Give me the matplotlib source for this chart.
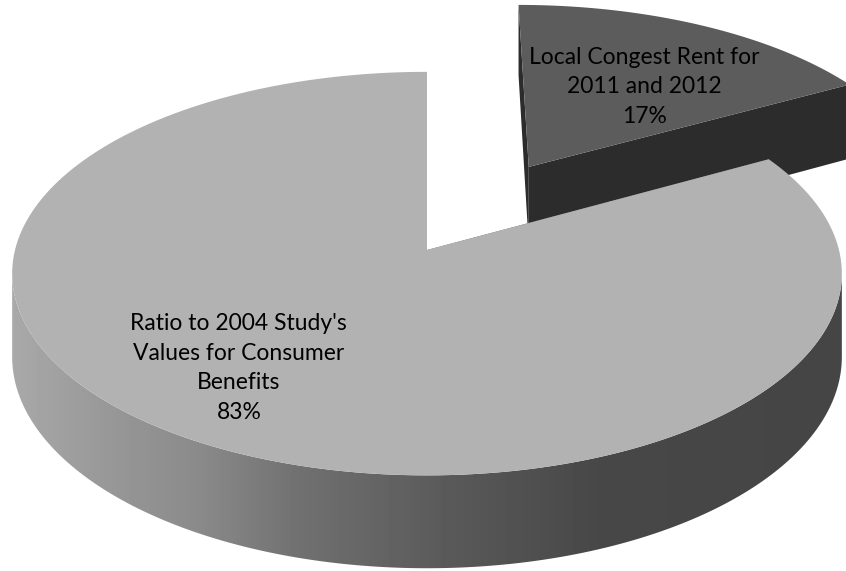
"""Exploded 3-D pie (Excel style) drawn with plain matplotlib patches."""
import numpy as np
import matplotlib
matplotlib.use("Agg")
import matplotlib.pyplot as plt
from matplotlib.patches import Polygon

labels = ["Local Congest Rent for\n2011 and 2012",
          "Ratio to 2004 Study's\nValues for Consumer\nBenefits"]
values = [17, 83]
explode = [0.51, 0.0]

top_colors = ["#5c5c5c", "#b2b2b2"]
side_colors = ["#2c2c2c", "#6a6a6a"]
# label anchor inside each slice, in disc coords (angle offset from mid, radius)
label_nudge = [(4, 0.57), (7, 0.70)]

W, H = 846, 571
# perspective projection of the unit disc onto the canvas (pixels)
CX, CY = 427, 250
A, B, K = 412, 199, 0.117
DEPTH = 82


def project(u, v, down=False):
    d = 1 + K * v
    x = CX + A * u / d
    y = CY - B * v / d
    if down:
        y = y + DEPTH / d
    return x, y


def arc(a0, a1, off, down=False, n=200):
    t = np.radians(np.linspace(a0, a1, n))
    return project(np.sin(t) + off[0], np.cos(t) + off[1], down)


fig = plt.figure(figsize=(W / 100, H / 100), dpi=100)
ax = fig.add_axes([0, 0, 1, 1])
ax.set_xlim(0, W)
ax.set_ylim(H, 0)
ax.axis("off")

total = sum(values)
bounds = np.concatenate([[0], np.cumsum(values) / total * 360])
# silhouette of the cylinder wall, seen from the front
sil_r = np.degrees(np.arccos(-K))
sil_l = 360 - sil_r

slices = []
for i, v in enumerate(values):
    a0, a1 = bounds[i], bounds[i + 1]
    mid = (a0 + a1) / 2
    off = (explode[i] * np.sin(np.radians(mid)), explode[i] * np.cos(np.radians(mid)))
    slices.append((i, a0, a1, mid, off))

# back-to-front
slices.sort(key=lambda s: -s[4][1])
z = 1
for i, a0, a1, mid, off in slices:
    cx_t, cy_t = project(*off)
    cx_b, cy_b = project(*off, down=True)
    # radial faces
    for a in (a0, a1):
        ex_t, ey_t = arc(a, a, off, n=1)
        ex_b, ey_b = arc(a, a, off, down=True, n=1)
        ax.add_patch(Polygon([(cx_t, cy_t), (ex_t[0], ey_t[0]), (ex_b[0], ey_b[0]), (cx_b, cy_b)],
                             closed=True, facecolor=side_colors[i], edgecolor="none", zorder=z))
    z += 1
    # outer wall, shaded left (lit) to right
    s0, s1 = max(a0, sil_r), min(a1, sil_l)
    if s1 > s0:
        xt, yt = arc(s0, s1, off)
        xb, yb = arc(s0, s1, off, down=True)
        verts = np.column_stack([np.concatenate([xt, xb[::-1]]), np.concatenate([yt, yb[::-1]])])
        wall = Polygon(verts, closed=True, facecolor="none", edgecolor="none", zorder=z)
        ax.add_patch(wall)
        shade = np.interp(np.arange(W), [0, 100, 200, 300, 450, 600, W],
                          [0.67, 0.60, 0.54, 0.44, 0.35, 0.28, 0.27])
        im = ax.imshow(np.tile(shade, (H, 1)), cmap="gray", vmin=0, vmax=1,
                       extent=(0, W, H, 0), aspect="auto", zorder=z, interpolation="bilinear")
        im.set_clip_path(wall)
    z += 1
    # top face
    xt, yt = arc(a0, a1, off)
    verts = [(cx_t, cy_t)] + list(zip(xt, yt))
    ax.add_patch(Polygon(verts, closed=True, facecolor=top_colors[i], edgecolor="none", zorder=z))
    z += 1

for i, (lab, v) in enumerate(zip(labels, values)):
    mid = (bounds[i] + bounds[i + 1]) / 2
    off = (explode[i] * np.sin(np.radians(mid)), explode[i] * np.cos(np.radians(mid)))
    da, r = label_nudge[i]
    t = np.radians(mid + da)
    lx, ly = project(off[0] + r * np.sin(t), off[1] + r * np.cos(t))
    ax.text(lx, ly, f"{lab}\n{v / total * 100:.0f}%", ha="center", va="center",
            fontsize=16.5, family="Lato", color="black", linespacing=1.5, zorder=20)

ax.set_xlim(0, W)
ax.set_ylim(H, 0)
fig.savefig("out.png", dpi=100, facecolor="white")
